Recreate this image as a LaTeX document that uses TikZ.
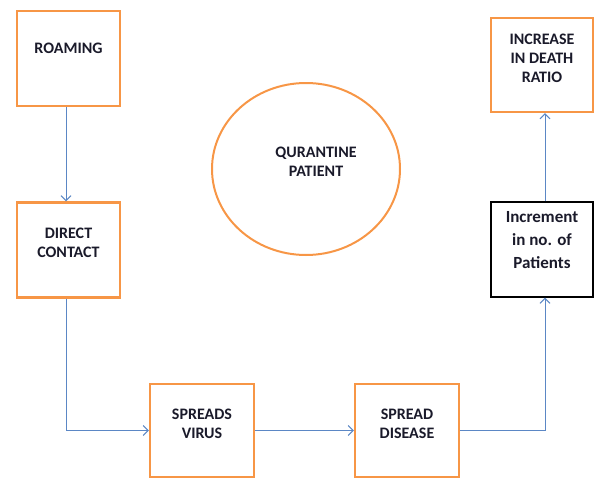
\documentclass[tikz,border=0pt]{standalone}
\usepackage{fontspec}
\setmainfont{Carlito}
\usetikzlibrary{arrows.meta,shapes.geometric}
\definecolor{boxorange}{HTML}{F79646}
\definecolor{arrowblue}{HTML}{5B87C5}
\definecolor{txt}{HTML}{1A1A2A}
\begin{document}
\begin{tikzpicture}[x=1pt,y=-1pt,
  box/.style={draw=boxorange, line width=2.2pt, minimum width=103pt, minimum height=95pt, inner sep=0pt},
  blackbox/.style={draw=black, line width=1.2pt, minimum width=102pt, minimum height=95pt, inner sep=0pt},
  lbl/.style={font=\bfseries\fontsize{16}{19}\selectfont, align=center, text=txt, inner sep=0pt},
  lblb/.style={font=\bfseries\fontsize{17}{23}\selectfont, align=center, text=txt, inner sep=0pt},
  conn/.style={draw=arrowblue, line width=1pt, -{Straight Barb[length=5pt,width=10pt]}}]
\useasboundingbox (0,0) rectangle (595,479);
\node[box] (roam) at (68.5,58.5) {};
\node[box] (direct) at (68.5,250) {};
\node[box, minimum width=102pt, minimum height=94pt] (death) at (542,65) {};
\node[blackbox] (incr) at (542,249.5) {};
\node[box, minimum width=104pt, minimum height=93pt] (virus) at (202,430.5) {};
\node[box, minimum width=104pt, minimum height=93pt] (disease) at (407,430.5) {};
\node[ellipse, draw=boxorange, line width=2pt, minimum width=188pt, minimum height=172pt, inner sep=0pt] (quar) at (306,169) {};

\node[lbl] (troam) at (68.5,48) {ROAMING};
\node[lbl] (tdirect) at (68.5,242.5) {DIRECT\\CONTACT};
\node[lbl] (tdeath) at (542,58) {INCREASE\\IN DEATH\\RATIO};
\node[lblb] (tincr) at (542,240) {Increment\\in no. of\\Patients};
\node[lbl] (tvirus) at (202,424) {SPREADS\\VIRUS};
\node[lbl] (tdisease) at (407,424) {SPREAD\\DISEASE};
\node[lbl] (tquar) at (316,162) {QURANTINE\\PATIENT};

\draw[conn] ([xshift=-2.5pt]roam.south) -- ([xshift=-2.5pt]direct.north);
\draw[conn] ([xshift=-2.5pt]direct.south) |- (virus.west);
\draw[conn] (virus.east) -- (disease.west);
\draw[conn] (disease.east) -| ([xshift=3pt]incr.south);
\draw[conn] ([xshift=3pt]incr.north) -- ([xshift=3pt]death.south);
\end{tikzpicture}
\end{document}
